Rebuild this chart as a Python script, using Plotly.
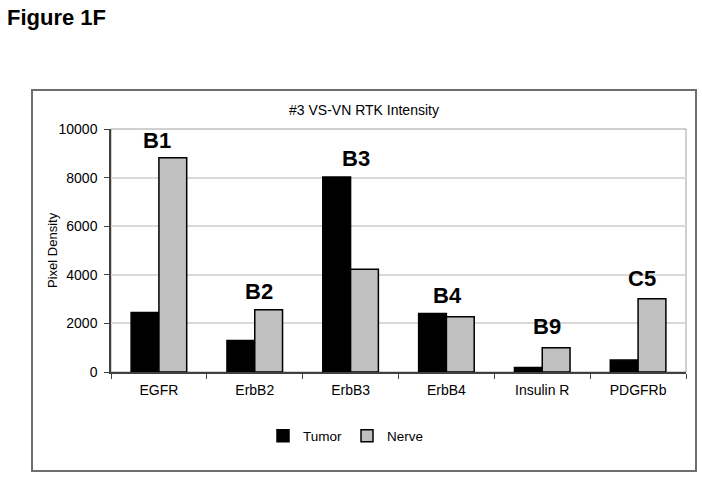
import plotly.graph_objects as go

categories = ["EGFR", "ErbB2", "ErbB3", "ErbB4", "Insulin R", "PDGFRb"]
tumor = [2450, 1300, 8020, 2410, 190, 490]
nerve = [8820, 2560, 4230, 2270, 1000, 3010]
spot_labels = ["B1", "B2", "B3", "B4", "B9", "C5"]
y_ticks = [0, 2000, 4000, 6000, 8000, 10000]

FONT = "Liberation Sans, Arial, sans-serif"

fig = go.Figure()
fig.add_trace(go.Bar(name="Tumor", x=categories, y=tumor,
                     marker=dict(color="#000000", line=dict(color="#000000", width=1.5))))
fig.add_trace(go.Bar(name="Nerve", x=categories, y=nerve,
                     marker=dict(color="#c0c0c0", line=dict(color="#000000", width=1.5))))

# plot area geometry (pixels)
L, R, T, B = 111, 686, 129, 372
W, H = 702, 477
def px_x(px):
    return (px - L) / (R - L)
def px_y(py):
    return (B - py) / (B - T)

xshifts = [-2, 4, 5, 1, 5, 4]
yshifts = [3, 4, 4, 3, 7, 6]
annotations = []
for c, lab, t, n, xs, ys in zip(categories, spot_labels, tumor, nerve, xshifts, yshifts):
    annotations.append(dict(x=c, y=max(t, n), xref="x", yref="y", text="<b>" + lab + "</b>",
                            showarrow=False, yanchor="bottom", xanchor="center", xshift=xs, yshift=ys,
                            font=dict(family=FONT, size=22, color="#000000")))

annotations.append(dict(x=px_x(5), y=px_y(17), xref="paper", yref="paper", text="<b>Figure 1F</b>",
                        showarrow=False, xanchor="left", yanchor="middle",
                        font=dict(family=FONT, size=22, color="#000000")))
annotations.append(dict(x=px_x(364), y=px_y(110), xref="paper", yref="paper",
                        text="#3 VS-VN RTK Intensity", showarrow=False, xanchor="center", yanchor="middle",
                        font=dict(family=FONT, size=14, color="#000000")))
annotations.append(dict(x=px_x(52), y=px_y(250), xref="paper", yref="paper",
                        text="Pixel Density", showarrow=False, textangle=-90, xanchor="center", yanchor="middle",
                        font=dict(family=FONT, size=13, color="#000000")))

shapes = [
    dict(type="rect", xref="paper", yref="paper", x0=px_x(32), x1=px_x(696), y0=px_y(471), y1=px_y(90),
         line=dict(color="#6e6e6e", width=2), layer="below"),
    dict(type="rect", xref="paper", yref="paper", x0=0, x1=1, y0=0, y1=1,
         line=dict(color="#a0a0a0", width=1), layer="below"),
]

fig.update_layout(
    width=W, height=H,
    margin=dict(l=L, r=W - R, t=T, b=H - B, pad=0),
    paper_bgcolor="white", plot_bgcolor="white",
    barmode="group", bargap=0.42, bargroupgap=0,
    font=dict(family=FONT, size=13, color="#000000"),
    showlegend=True,
    legend=dict(orientation="h", x=px_x(346), y=px_y(436), xanchor="center", yanchor="middle",
                font=dict(family=FONT, size=13.5), itemwidth=30, tracegroupgap=0,
                bgcolor="rgba(0,0,0,0)"),
    annotations=annotations,
    shapes=shapes,
    xaxis=dict(showline=True, linecolor="#404040", linewidth=1.5, ticks="outside", ticklen=5,
               tickcolor="#404040", tickson="boundaries", showgrid=False,
               tickfont=dict(family=FONT, size=14), ticklabelstandoff=4),
    yaxis=dict(range=[0, 10000], tickvals=y_ticks, tickformat="d", showline=True, linecolor="#404040",
               linewidth=1.5, ticks="outside", ticklen=5, tickcolor="#404040", showgrid=True,
               gridcolor="#d9d9d9", gridwidth=1.5, zeroline=False, tickfont=dict(family=FONT, size=14),
               ticklabelstandoff=4),
)

fig.write_html("out.html", config={"displayModeBar": False},
               post_script="document.body.style.margin='0';document.body.style.overflow='hidden';")
